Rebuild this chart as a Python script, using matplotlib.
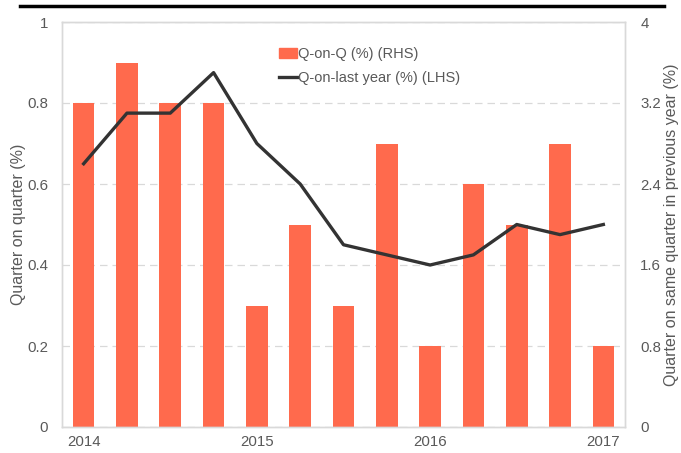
import numpy as np
import matplotlib.pyplot as plt
from matplotlib.lines import Line2D

plt.rcParams['font.family'] = ['Liberation Sans', 'DejaVu Sans']

# Данные
quarters = ['2014 Q1', '2014 Q2', '2014 Q3', '2014 Q4',
            '2015 Q1', '2015 Q2', '2015 Q3', '2015 Q4',
            '2016 Q1', '2016 Q2', '2016 Q3', '2016 Q4',
            '2017 Q1']
q_on_q = [0.8, 0.9, 0.8, 0.8, 0.3, 0.5, 0.3, 0.7, 0.2, 0.6, 0.5, 0.7, 0.2]
q_on_year = [2.6, 3.1, 3.1, 3.5, 2.8, 2.4, 1.8, 1.7, 1.6, 1.7, 2.0, 1.9, 2.0]
year_labels = ['2014', '2015', '2016', '2017']
year_pos = [0, 4, 8, 12]

grey = '#595959'
bar_color = '#FF6A4D'
line_color = '#333333'

fig = plt.figure(figsize=(6.81, 4.53), dpi=100)
ax = fig.add_axes([62 / 681, 1 - 427 / 453, 563 / 681, 405 / 453])
ax2 = ax.twinx()

x = np.arange(len(quarters))
ax.bar(x, q_on_q, width=0.5, color=bar_color, zorder=2)
ax2.plot(x, q_on_year, color=line_color, lw=2.4, zorder=3)

# Оси
ax.set_xlim(-0.5, len(quarters) - 0.5)
ax.set_ylim(0, 1)
ax2.set_ylim(0, 4)
ax.set_yticks([0, 0.2, 0.4, 0.6, 0.8, 1])
ax.set_yticklabels(['0', '0.2', '0.4', '0.6', '0.8', '1'])
ax2.set_yticks([0, 0.8, 1.6, 2.4, 3.2, 4])
ax2.set_yticklabels(['0', '0.8', '1.6', '2.4', '3.2', '4'])
ax.set_xticks(year_pos)
ax.set_xticklabels(year_labels)

for a in (ax, ax2):
    a.tick_params(length=0, colors=grey, labelsize=10.8)
    for s in a.spines.values():
        s.set_color('#d9d9d9')
        s.set_linewidth(1)
ax.tick_params(axis='y', pad=10)
ax2.tick_params(axis='y', pad=11)
ax.tick_params(axis='x', pad=6)

ax.yaxis.grid(True, linestyle=(0, (6, 4)), color='#d9d9d9', lw=0.9)
ax.set_axisbelow(True)

ax.set_ylabel('Quarter on quarter (%)', color=grey, fontsize=11.5, labelpad=1)
ax2.set_ylabel('Quarter on same quarter in previous year (%)', color=grey,
               fontsize=11.5, labelpad=2)

# Легенда
handles = [plt.Rectangle((0, 0), 1, 1, color=bar_color),
           Line2D([0], [0], color=line_color, lw=2.4)]
fig.legend(handles, ['Q-on-Q (%) (RHS)', 'Q-on-last year (%) (LHS)'],
           loc='upper left', bbox_to_anchor=(266 / 681, 1 - 34 / 453),
           frameon=False, fontsize=10.5, labelcolor=grey,
           handlelength=1.2, handletextpad=0.1, labelspacing=0.65)

# Линия сверху
fig.add_artist(Line2D([20 / 681, 664 / 681], [1 - 6 / 453, 1 - 6 / 453],
                      color='black', lw=2.5))

fig.savefig('out.png', dpi=100)
